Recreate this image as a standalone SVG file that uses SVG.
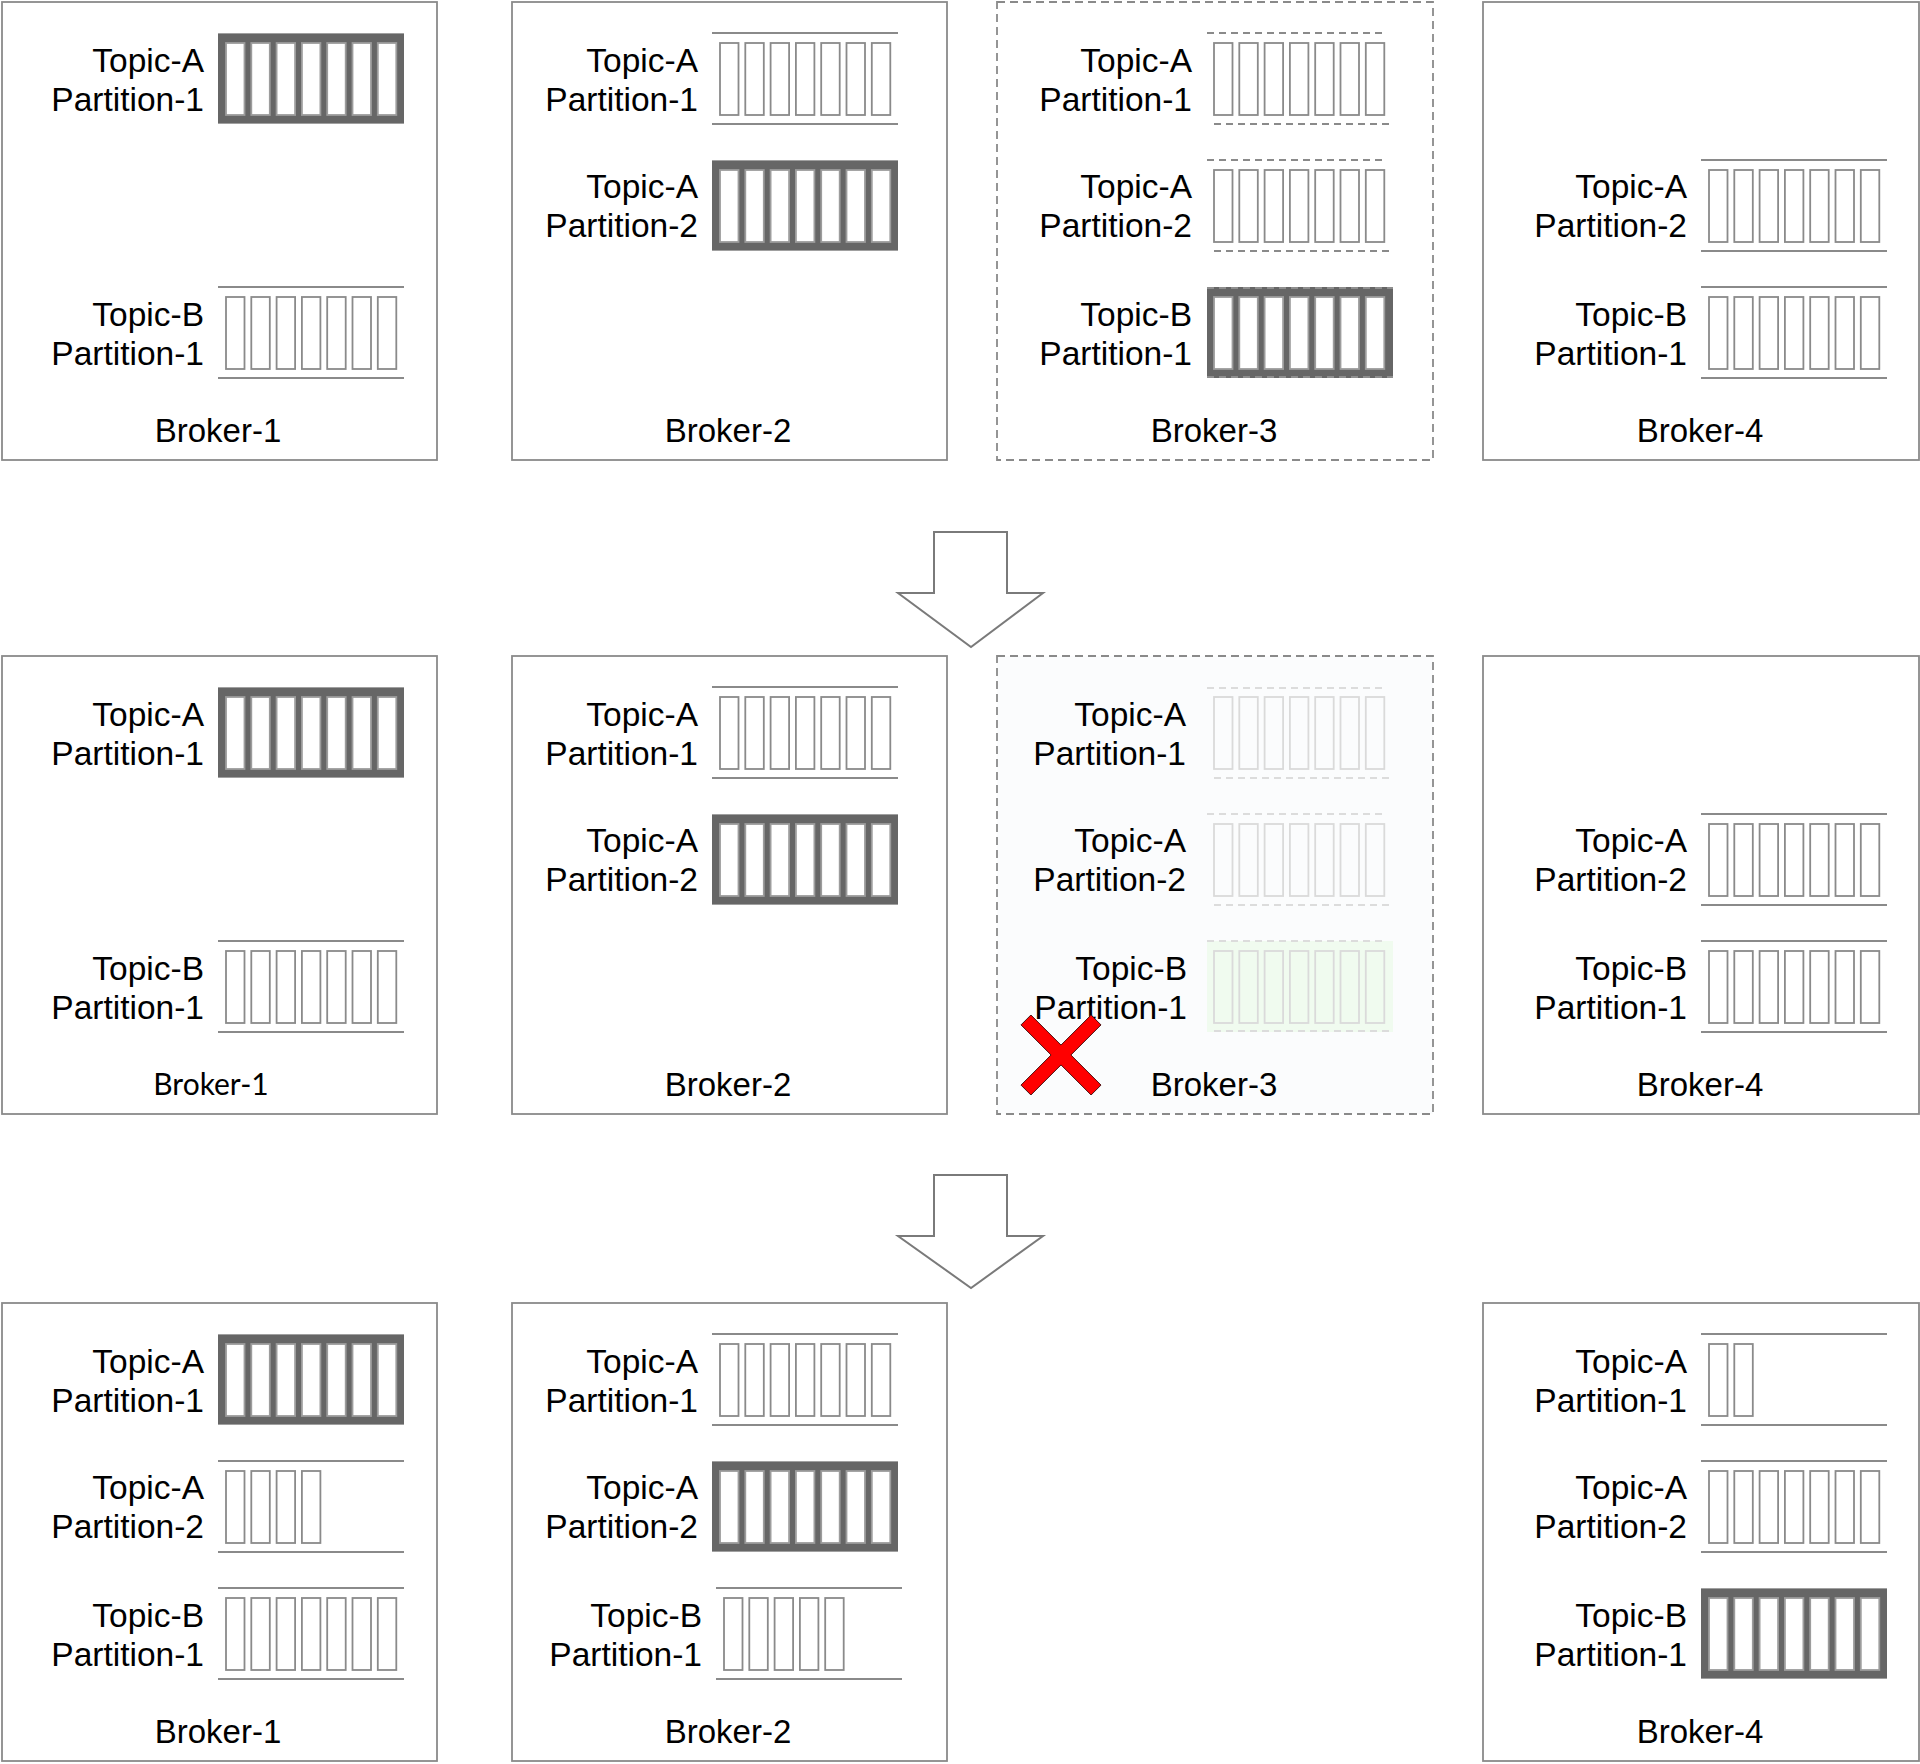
<svg xmlns="http://www.w3.org/2000/svg" xmlns:xlink="http://www.w3.org/1999/xlink" width="1920" height="1764" viewBox="0 0 1920 1764">
<style>
.box{fill:#fff;stroke:#8a8a8a;stroke-width:1.8}
.dbox{fill:#fff;stroke:#8a8a8a;stroke-width:1.8;stroke-dasharray:8 5}
.fbox{fill:#fbfcfd;stroke:#8a8a8a;stroke-width:1.8;stroke-dasharray:8 5}
.ln{stroke:#8a8a8a;stroke-width:1.8;fill:none}
.dln{stroke:#8a8a8a;stroke-width:1.8;fill:none;stroke-dasharray:7 5}
.fln{stroke:#dcdcdc;stroke-width:1.8;fill:none;stroke-dasharray:7 5}
.cell{fill:#fff;stroke:#8a8a8a;stroke-width:1.8}
.fcell{fill:none;stroke:#dadada;stroke-width:1.8}
.dark{fill:#666}
.dcell{fill:#fff;stroke:#9c9c9c;stroke-width:1.8}
.dedge{stroke:#a0a0a0;stroke-width:1;fill:none}
.t{font-family:"Liberation Sans",Arial,Helvetica,sans-serif;font-size:33.5px;fill:#000;text-anchor:end}
.lb{font-family:"Liberation Sans",Arial,Helvetica,sans-serif;font-size:33px;fill:#000;text-anchor:middle}
.lb2{font-family:Lato,"Liberation Sans",sans-serif;font-size:30px;fill:#000;text-anchor:middle}
.arrow{fill:#fff;stroke:#7a7a7a;stroke-width:2}
</style>
<defs>
<g id="c7"><rect x="0" y="0" width="18.5" height="72"/><rect x="25.3" y="0" width="18.5" height="72"/><rect x="50.6" y="0" width="18.5" height="72"/><rect x="75.9" y="0" width="18.5" height="72"/><rect x="101.2" y="0" width="18.5" height="72"/><rect x="126.5" y="0" width="18.5" height="72"/><rect x="151.8" y="0" width="18.5" height="72"/></g>
<g id="c5"><rect x="0" y="0" width="18.5" height="72"/><rect x="25.3" y="0" width="18.5" height="72"/><rect x="50.6" y="0" width="18.5" height="72"/><rect x="75.9" y="0" width="18.5" height="72"/><rect x="101.2" y="0" width="18.5" height="72"/></g>
<g id="c4"><rect x="0" y="0" width="18.5" height="72"/><rect x="25.3" y="0" width="18.5" height="72"/><rect x="50.6" y="0" width="18.5" height="72"/><rect x="75.9" y="0" width="18.5" height="72"/></g>
<g id="c2"><rect x="0" y="0" width="18.5" height="72"/><rect x="25.3" y="0" width="18.5" height="72"/></g>
<g id="light7"><line class="ln" x1="0" y1="0" x2="186" y2="0"/><line class="ln" x1="0" y1="91" x2="186" y2="91"/><use href="#c7" class="cell" x="8" y="10"/></g>
<g id="dark7"><rect class="dark" x="0" y="0" width="186" height="91"/><use href="#c7" class="dcell" x="8" y="10"/><line class="dedge" x1="0" y1="0.5" x2="186" y2="0.5"/><line class="dedge" x1="0" y1="90.5" x2="186" y2="90.5"/></g>
</defs>

<!-- Row 1 -->
<g id="r1-broker-1">
<rect class="box" x="2" y="2" width="435" height="458"/>
<use href="#dark7" x="218" y="33"/>
<text class="t" x="204" y="72">Topic-A<tspan x="204" dy="39">Partition-1</tspan></text>
<use href="#light7" x="218" y="287"/>
<text class="t" x="204" y="326">Topic-B<tspan x="204" dy="39">Partition-1</tspan></text>
<text class="lb" x="218" y="442">Broker-1</text>
</g>
<g id="r1-broker-2">
<rect class="box" x="512" y="2" width="435" height="458"/>
<use href="#light7" x="712" y="33"/>
<text class="t" x="698" y="72">Topic-A<tspan x="698" dy="39">Partition-1</tspan></text>
<use href="#dark7" x="712" y="160"/>
<text class="t" x="698" y="198">Topic-A<tspan x="698" dy="39">Partition-2</tspan></text>
<text class="lb" x="728" y="442">Broker-2</text>
</g>
<g id="r1-broker-3">
<rect class="dbox" x="997" y="2" width="436" height="458"/>
<line class="dln" x1="1207" y1="33" x2="1386" y2="33"/><line class="dln" x1="1214" y1="124" x2="1393" y2="124"/>
<use href="#c7" class="cell" x="1214" y="43"/>
<text class="t" x="1192" y="72">Topic-A<tspan x="1192" dy="39">Partition-1</tspan></text>
<line class="dln" x1="1207" y1="160" x2="1386" y2="160"/><line class="dln" x1="1214" y1="251" x2="1393" y2="251"/>
<use href="#c7" class="cell" x="1214" y="170"/>
<text class="t" x="1192" y="198">Topic-A<tspan x="1192" dy="39">Partition-2</tspan></text>
<rect class="dark" x="1207" y="287" width="186" height="91"/>
<use href="#c7" class="dcell" x="1214" y="297"/>
<line class="fln" x1="1207" y1="288" x2="1393" y2="288" style="stroke:#8e8e8e"/><line class="fln" x1="1207" y1="377" x2="1393" y2="377" style="stroke:#8e8e8e"/>
<text class="t" x="1192" y="326">Topic-B<tspan x="1192" dy="39">Partition-1</tspan></text>
<text class="lb" x="1214" y="442">Broker-3</text>
</g>
<g id="r1-broker-4">
<rect class="box" x="1483" y="2" width="436" height="458"/>
<use href="#light7" x="1701" y="160"/>
<text class="t" x="1687" y="198">Topic-A<tspan x="1687" dy="39">Partition-2</tspan></text>
<use href="#light7" x="1701" y="287"/>
<text class="t" x="1687" y="326">Topic-B<tspan x="1687" dy="39">Partition-1</tspan></text>
<text class="lb" x="1700" y="442">Broker-4</text>
</g>

<!-- Row 2 -->
<g id="r2-broker-1">
<rect class="box" x="2" y="656" width="435" height="458"/>
<use href="#dark7" x="218" y="687"/>
<text class="t" x="204" y="726">Topic-A<tspan x="204" dy="39">Partition-1</tspan></text>
<use href="#light7" x="218" y="941"/>
<text class="t" x="204" y="980">Topic-B<tspan x="204" dy="39">Partition-1</tspan></text>
<text class="lb2" x="211" y="1095">Broker-1</text>
</g>
<g id="r2-broker-2">
<rect class="box" x="512" y="656" width="435" height="458"/>
<use href="#light7" x="712" y="687"/>
<text class="t" x="698" y="726">Topic-A<tspan x="698" dy="39">Partition-1</tspan></text>
<use href="#dark7" x="712" y="814"/>
<text class="t" x="698" y="852">Topic-A<tspan x="698" dy="39">Partition-2</tspan></text>
<text class="lb" x="728" y="1096">Broker-2</text>
</g>
<g id="r2-broker-3">
<rect class="fbox" x="997" y="656" width="436" height="458"/>
<line class="fln" x1="1207" y1="688" x2="1386" y2="688"/><line class="fln" x1="1214" y1="778" x2="1393" y2="778"/>
<use href="#c7" class="fcell" x="1214" y="697"/>
<text class="t" x="1186" y="726">Topic-A<tspan x="1186" dy="39">Partition-1</tspan></text>
<line class="fln" x1="1207" y1="814" x2="1386" y2="814"/><line class="fln" x1="1214" y1="905" x2="1393" y2="905"/>
<use href="#c7" class="fcell" x="1214" y="824"/>
<text class="t" x="1186" y="852">Topic-A<tspan x="1186" dy="39">Partition-2</tspan></text>
<rect x="1207" y="941" width="186" height="91" fill="#f0fbef"/>
<line class="fln" x1="1207" y1="941" x2="1386" y2="941"/><line class="fln" x1="1214" y1="1031" x2="1393" y2="1031"/>
<use href="#c7" class="fcell" x="1214" y="951"/>
<text class="t" x="1187" y="980">Topic-B<tspan x="1187" dy="39">Partition-1</tspan></text>
<text class="lb" x="1214" y="1096">Broker-3</text>
<path transform="translate(1061,1055)" d="M0,-9.9 L30.1,-40 L40,-30.1 L9.9,0 L40,30.1 L30.1,40 L0,9.9 L-30.1,40 L-40,30.1 L-9.9,0 L-40,-30.1 L-30.1,-40 Z" fill="#ff0000" stroke="#4a1010" stroke-width="1"/>
</g>
<g id="r2-broker-4">
<rect class="box" x="1483" y="656" width="436" height="458"/>
<use href="#light7" x="1701" y="814"/>
<text class="t" x="1687" y="852">Topic-A<tspan x="1687" dy="39">Partition-2</tspan></text>
<use href="#light7" x="1701" y="941"/>
<text class="t" x="1687" y="980">Topic-B<tspan x="1687" dy="39">Partition-1</tspan></text>
<text class="lb" x="1700" y="1096">Broker-4</text>
</g>

<!-- Row 3 -->
<g id="r3-broker-1">
<rect class="box" x="2" y="1303" width="435" height="458"/>
<use href="#dark7" x="218" y="1334"/>
<text class="t" x="204" y="1373">Topic-A<tspan x="204" dy="39">Partition-1</tspan></text>
<line class="ln" x1="218" y1="1461" x2="404" y2="1461"/><line class="ln" x1="218" y1="1552" x2="404" y2="1552"/>
<use href="#c4" class="cell" x="226" y="1471"/>
<text class="t" x="204" y="1499">Topic-A<tspan x="204" dy="39">Partition-2</tspan></text>
<use href="#light7" x="218" y="1588"/>
<text class="t" x="204" y="1627">Topic-B<tspan x="204" dy="39">Partition-1</tspan></text>
<text class="lb" x="218" y="1743">Broker-1</text>
</g>
<g id="r3-broker-2">
<rect class="box" x="512" y="1303" width="435" height="458"/>
<use href="#light7" x="712" y="1334"/>
<text class="t" x="698" y="1373">Topic-A<tspan x="698" dy="39">Partition-1</tspan></text>
<use href="#dark7" x="712" y="1461"/>
<text class="t" x="698" y="1499">Topic-A<tspan x="698" dy="39">Partition-2</tspan></text>
<line class="ln" x1="716" y1="1588" x2="902" y2="1588"/><line class="ln" x1="716" y1="1679" x2="902" y2="1679"/>
<use href="#c5" class="cell" x="724" y="1598"/>
<text class="t" x="702" y="1627">Topic-B<tspan x="702" dy="39">Partition-1</tspan></text>
<text class="lb" x="728" y="1743">Broker-2</text>
</g>
<g id="r3-broker-4">
<rect class="box" x="1483" y="1303" width="436" height="458"/>
<line class="ln" x1="1701" y1="1334" x2="1887" y2="1334"/><line class="ln" x1="1701" y1="1425" x2="1887" y2="1425"/>
<use href="#c2" class="cell" x="1709" y="1344"/>
<text class="t" x="1687" y="1373">Topic-A<tspan x="1687" dy="39">Partition-1</tspan></text>
<use href="#light7" x="1701" y="1461"/>
<text class="t" x="1687" y="1499">Topic-A<tspan x="1687" dy="39">Partition-2</tspan></text>
<use href="#dark7" x="1701" y="1588"/>
<text class="t" x="1687" y="1627">Topic-B<tspan x="1687" dy="39">Partition-1</tspan></text>
<text class="lb" x="1700" y="1743">Broker-4</text>
</g>

<g id="connectors">
<path class="arrow" d="M934,532 L1007,532 L1007,593 L1043,593 L971,647 L898,593 L934,593 Z"/>
<path class="arrow" d="M934,1175 L1007,1175 L1007,1236 L1043,1236 L971,1288 L898,1236 L934,1236 Z"/>
</g>
</svg>
